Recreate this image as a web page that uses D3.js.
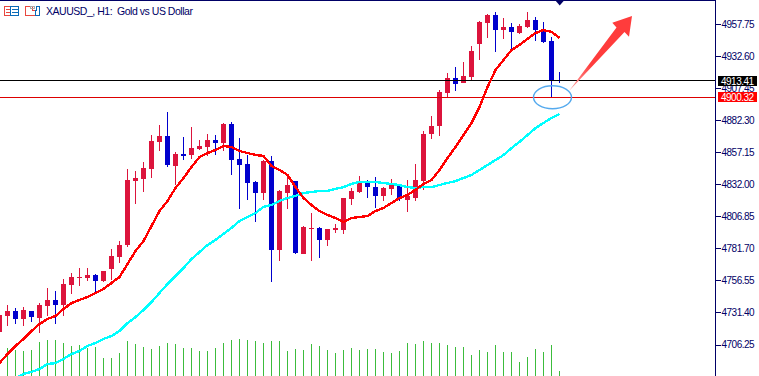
<!DOCTYPE html>
<html>
<head>
<meta charset="utf-8">
<script src="https://cdn.jsdelivr.net/npm/d3@7"></script>
<style>
body { margin: 0; background: #fff; overflow: hidden; }
svg { display: block; }
</style>
</head>
<body>
<div id="chart"></div>
<script>
// XAUUSD H1 candles, first bar sits just off the left edge
var firstBar = -1;
var opens = [4716.1,4728.6,4732.5,4726.3,4732.5,4727.0,4736.4,4741.2,4737.2,4753.0,4758.4,4758.4,4760.8,4756.1,4765.5,4774.9,4784.3,4834.5,4836.1,4844.0,4865.2,4869.9,4846.3,4855.8,4855.0,4859.7,4861.2,4866.7,4864.4,4879.3,4851.8,4847.9,4833.8,4825.1,4850.2,4780.4,4825.1,4834.5,4777.3,4796.9,4797.7,4788.3,4796.1,4796.1,4820.4,4825.9,4833.0,4829.8,4822.8,4828.3,4830.6,4819.6,4821.2,4834.5,4871.4,4877.7,4903.6,4915.4,4911.4,4916.2,4942.1,4958.5,4964.8,4953.0,4955.4,4950.7,4955.4,4960.9,4953.0,4944.4,4913.8];
var highs = [4733.3,4737.2,4734.9,4735.7,4732.5,4738.8,4750.6,4748.2,4757.7,4762.4,4766.3,4766.3,4761.6,4763.9,4781.2,4787.5,4844.0,4842.4,4849.5,4870.6,4878.5,4888.7,4857.3,4869.1,4876.9,4866.7,4871.4,4870.6,4880.1,4880.9,4868.3,4855.0,4834.5,4851.0,4854.2,4827.5,4838.5,4834.5,4799.2,4809.4,4798.4,4796.9,4800.8,4821.2,4829.1,4838.5,4835.3,4837.7,4829.8,4836.1,4832.2,4835.3,4847.9,4873.8,4885.6,4906.0,4919.3,4924.0,4927.9,4940.5,4960.1,4965.6,4967.2,4962.5,4958.5,4957.7,4967.2,4963.2,4959.3,4947.5,4920.1];
var lows = [4714.5,4720.8,4722.3,4720.8,4723.9,4715.3,4728.6,4722.3,4728.6,4745.9,4752.2,4756.1,4746.7,4755.3,4756.9,4770.2,4782.8,4816.5,4825.9,4836.9,4858.1,4845.5,4831.4,4851.0,4851.8,4858.9,4854.2,4855.0,4858.1,4839.3,4812.6,4819.6,4802.4,4819.6,4755.3,4771.8,4812.6,4777.3,4777.3,4771.8,4774.1,4783.6,4793.7,4793.0,4815.7,4825.1,4821.2,4813.4,4818.9,4823.6,4818.9,4810.2,4818.9,4827.5,4867.5,4869.9,4900.5,4905.2,4911.4,4913.8,4929.5,4946.8,4935.8,4946.0,4937.3,4949.9,4954.6,4944.4,4942.8,4900.5,4911.4];
var closes = [4729.4,4732.5,4726.3,4733.3,4727.8,4737.2,4741.2,4737.2,4753.7,4759.2,4759.2,4760.8,4756.1,4763.9,4775.7,4784.3,4835.3,4836.9,4844.8,4866.0,4869.9,4847.1,4855.8,4854.2,4860.4,4862.0,4866.7,4864.4,4879.3,4851.0,4847.1,4833.0,4825.1,4850.2,4780.4,4826.7,4831.4,4778.0,4798.4,4797.7,4788.3,4796.9,4797.7,4821.2,4826.7,4833.0,4829.8,4822.8,4829.1,4831.4,4820.4,4822.8,4835.3,4871.4,4877.7,4904.4,4915.4,4910.7,4916.9,4936.6,4959.3,4964.8,4953.0,4955.4,4951.5,4956.2,4960.9,4953.0,4943.6,4913.8,4913.0];

// moving averages
var maFast = [4691.7,4698.8,4705.1,4710.6,4716.8,4722.3,4726.3,4728.6,4734.1,4738.8,4741.2,4743.5,4746.7,4749.8,4754.5,4759.2,4769.4,4779.6,4787.5,4799.2,4811.0,4818.9,4829.1,4836.9,4845.5,4853.4,4856.5,4858.9,4862.0,4861.2,4858.1,4856.5,4855.0,4854.2,4846.3,4843.2,4839.3,4829.8,4821.2,4815.7,4811.0,4807.9,4805.5,4802.4,4805.5,4806.3,4807.1,4811.0,4813.4,4817.3,4821.2,4823.6,4827.5,4832.2,4835.3,4843.2,4852.6,4861.2,4870.6,4880.1,4892.6,4908.3,4921.6,4929.5,4937.3,4941.3,4946.0,4950.7,4953.0,4951.5,4946.8];
var maSlow = [4673.7,4676.8,4680.0,4683.1,4684.7,4687.0,4690.9,4691.7,4694.9,4698.8,4701.2,4705.1,4707.4,4710.6,4712.9,4716.8,4723.1,4727.8,4733.3,4739.6,4746.7,4753.7,4760.0,4766.3,4773.3,4778.8,4784.3,4788.3,4793.0,4797.7,4803.2,4806.3,4809.4,4814.2,4815.7,4818.9,4821.2,4822.8,4825.1,4825.9,4826.7,4826.7,4828.3,4829.8,4832.2,4833.8,4833.8,4833.8,4833.0,4832.2,4831.4,4829.8,4829.1,4829.8,4829.8,4831.4,4833.0,4834.5,4836.9,4839.3,4843.2,4847.1,4851.0,4854.9,4860.4,4865.2,4870.6,4876.1,4880.1,4884.0,4887.1];

// tick volume
var volumes = [2400,2800,2600,2500,2600,3400,3600,3600,3300,3000,3100,2800,2900,1800,1800,2300,3500,3200,2900,2700,3000,3300,3200,2800,2800,2500,2500,2800,3300,3600,3700,3600,3500,3300,3500,3500,2500,2700,2600,3200,3000,2600,2300,2600,2800,2600,2700,2700,2400,2300,2500,3300,3200,3500,3300,3300,3100,2900,2900,2100,2600,2400,3100,2400,2400,1400,1900,2700,2400,3100,500];

var priceTicks = [4957.75,4932.60,4907.45,4882.30,4857.15,4832.00,4806.85,4781.70,4756.55,4731.40,4706.25];
var bidPrice = 4913.41;
var askPrice = 4900.32;
var titleText = "XAUUSD_, H1:  Gold vs US Dollar";

var width = 759, height = 376, plotRight = 715;
var navy = "#000066";

var svg = d3.select("#chart").append("svg")
    .attr("width", width)
    .attr("height", height);

var bars = d3.range(opens.length);

var x = d3.scaleLinear()
    .domain([firstBar, firstBar + opens.length - 1])
    .range([-1, 559]);

var y = d3.scaleLinear()
    .domain([4957.75, 4706.25])
    .range([24, 344.5]);

var yVol = d3.scaleLinear()
    .domain([0, 4000])
    .range([376, 336]);

var xAt = function(i){ return x(i + firstBar); };

// Volume histogram goes at the back
svg.append("g").attr("class", "volumes")
    .selectAll("line")
    .data(bars)
    .enter()
    .append("line")
    .attr("x1", i => xAt(i) + 0.5)
    .attr("x2", i => xAt(i) + 0.5)
    .attr("y1", i => Math.round(yVol(volumes[i])))
    .attr("y2", height)
    .attr("stroke", "#3cbc3c")
    .attr("shape-rendering", "crispEdges");

// Candles
var candleColor = function(i){ return closes[i] >= opens[i] ? "#dc143c" : "#0000cd"; };

var candles = svg.append("g").attr("class", "candles")
    .attr("shape-rendering", "crispEdges");

candles.selectAll("line")
    .data(bars)
    .enter()
    .append("line")
    .attr("x1", i => xAt(i) + 0.5)
    .attr("x2", i => xAt(i) + 0.5)
    .attr("y1", i => Math.round(y(highs[i])))
    .attr("y2", i => Math.round(y(lows[i])))
    .attr("stroke", candleColor);

candles.selectAll("rect")
    .data(bars)
    .enter()
    .append("rect")
    .attr("x", i => xAt(i) - 2)
    .attr("width", 5)
    .attr("y", i => Math.round(y(Math.max(opens[i], closes[i]))))
    .attr("height", i => Math.max(1, Math.round(y(Math.min(opens[i], closes[i]))) - Math.round(y(Math.max(opens[i], closes[i])))))
    .attr("fill", candleColor);

// Bid and ask lines
svg.append("line")
    .attr("x1", 0).attr("x2", plotRight)
    .attr("y1", Math.floor(y(bidPrice)) + 0.5).attr("y2", Math.floor(y(bidPrice)) + 0.5)
    .attr("stroke", "#000");

svg.append("line")
    .attr("x1", 0).attr("x2", plotRight)
    .attr("y1", Math.floor(y(askPrice)) + 0.5).attr("y2", Math.floor(y(askPrice)) + 0.5)
    .attr("stroke", "#dd0000");

// Moving averages, no smoothing to keep the stepped look
var maLine = d3.line()
    .x((d, i) => xAt(i) + 0.5)
    .y(d => y(d));

svg.append("path")
    .attr("d", maLine(maSlow))
    .attr("fill", "none")
    .attr("stroke", "#00ffff")
    .attr("stroke-width", 2.4)
    .attr("shape-rendering", "crispEdges");

svg.append("path")
    .attr("d", maLine(maFast))
    .attr("fill", "none")
    .attr("stroke", "#ff0000")
    .attr("stroke-width", 2.4)
    .attr("shape-rendering", "crispEdges");

// Frame, top line and the period marker
svg.append("line")
    .attr("x1", 0).attr("x2", plotRight + 1)
    .attr("y1", 0.5).attr("y2", 0.5)
    .attr("stroke", navy);

svg.append("path")
    .attr("d", "M555,0H564.5L559.7,5.5Z")
    .attr("fill", navy);

// Price axis
var yAxis = d3.axisRight(y)
    .tickValues(priceTicks)
    .tickFormat(d3.format(".2f"))
    .tickSize(5)
    .tickPadding(1);

var axisG = svg.append("g")
    .attr("class", "y-axis")
    .attr("transform", "translate(" + (plotRight + 0.5) + ",0)")
    .call(yAxis)
    .call(g => g.select(".domain").remove());

axisG.selectAll("line").attr("stroke", navy).attr("shape-rendering", "crispEdges");
axisG.selectAll("text")
    .attr("fill", navy)
    .attr("font-family", "Liberation Sans")
    .attr("font-size", "10px")
    .attr("letter-spacing", "-0.5px");

svg.append("line")
    .attr("x1", plotRight + 0.5).attr("x2", plotRight + 0.5)
    .attr("y1", 0).attr("y2", height)
    .attr("stroke", navy);

// Price tags on the axis
var tags = [
    { price: bidPrice, fill: "#000" },
    { price: askPrice, fill: "#ff0000" }
];

var tagG = svg.append("g").attr("class", "tags");

tagG.selectAll("rect")
    .data(tags)
    .enter()
    .append("rect")
    .attr("x", 718)
    .attr("y", d => Math.round(y(d.price)) - 5)
    .attr("width", 39)
    .attr("height", 10)
    .attr("fill", d => d.fill);

tagG.selectAll("text")
    .data(tags)
    .enter()
    .append("text")
    .attr("x", 721)
    .attr("y", d => Math.round(y(d.price)) + 4)
    .attr("fill", "#fff")
    .attr("font-family", "Liberation Sans")
    .attr("font-size", "10px")
    .attr("letter-spacing", "-0.5px")
    .text(d => d.price.toFixed(2));

// Header: toolbar icons and symbol title
var icons = svg.append("g").attr("class", "icons")
    .attr("shape-rendering", "crispEdges")
    .attr("fill", "none");

icons.append("rect").attr("x", 4.5).attr("y", 6.5).attr("width", 6).attr("height", 9).attr("stroke", "#e8473f");
icons.append("rect").attr("x", 10.5).attr("y", 6.5).attr("width", 8).attr("height", 9).attr("stroke", "#0a6ab8");
[9.5, 12.5].forEach(function(ly){
    icons.append("line").attr("x1", 6).attr("x2", 10).attr("y1", ly).attr("y2", ly).attr("stroke", "#e8473f");
    icons.append("line").attr("x1", 12).attr("x2", 18).attr("y1", ly).attr("y2", ly).attr("stroke", "#0a6ab8");
});
icons.append("path").attr("d", "M25.5,6.5H32.5V10.5H35.5V15.5H25.5Z").attr("stroke", "#e8473f");
icons.append("path").attr("d", "M35.5,15.5V10.5H36.5V6.5H39.5V15.5Z").attr("stroke", "#0a6ab8");
icons.append("rect").attr("x", 30.5).attr("y", 6.5).attr("width", 4).attr("height", 2).attr("stroke", "#aaa");

svg.append("text")
    .attr("x", 46)
    .attr("y", 15)
    .attr("fill", navy)
    .attr("font-family", "Liberation Sans")
    .attr("font-size", "10.5px")
    .attr("letter-spacing", "-0.47px")
    .style("white-space", "pre")
    .text(titleText);

// Hand drawn annotation: circle round the wick and the arrow pointing up
svg.append("ellipse")
    .attr("cx", xAt(69) + 1.5)
    .attr("cy", y(askPrice))
    .attr("rx", 19)
    .attr("ry", 11.5)
    .attr("fill", "none")
    .attr("stroke", "#55aaee")
    .attr("stroke-width", 1.4);

var grad = svg.append("defs").append("linearGradient")
    .attr("id", "arrowFade")
    .attr("gradientUnits", "userSpaceOnUse")
    .attr("x1", 569).attr("y1", 91)
    .attr("x2", 590).attr("y2", 64);
grad.append("stop").attr("offset", 0).attr("stop-color", "#ffa8a8");
grad.append("stop").attr("offset", 1).attr("stop-color", "#ff3c3c");

svg.append("path")
    .attr("d", "M569,91L616.5,27.5L612.3,22.7L632,16L629,36.7L624.5,32Z")
    .attr("fill", "url(#arrowFade)");
</script>
</body>
</html>
